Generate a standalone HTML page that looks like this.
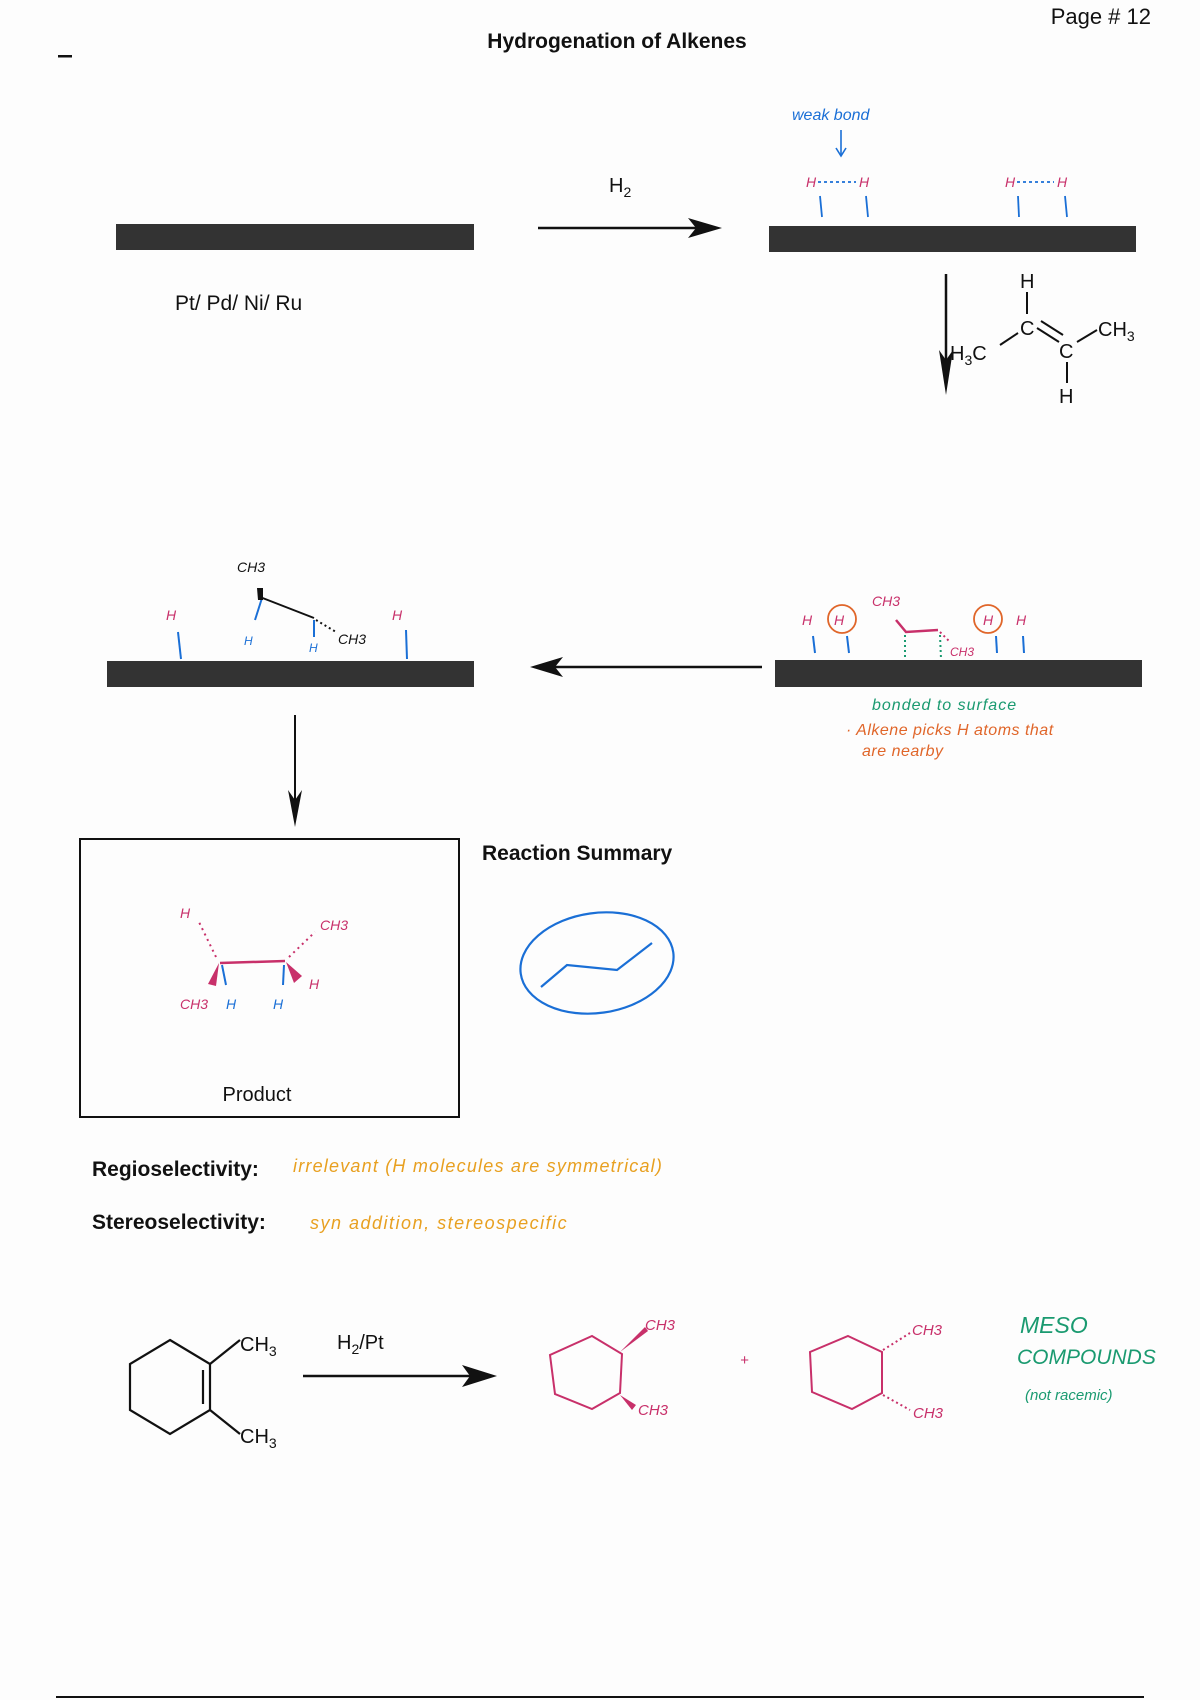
<!DOCTYPE html>
<html><head><meta charset="utf-8"><style>
html,body{margin:0;padding:0;background:#fff}
svg{display:block}
.t{font-family:"Liberation Sans",sans-serif;fill:#111}
.hw{font-family:"Liberation Sans",sans-serif;font-style:italic}
</style></head><body>
<svg width="1200" height="1700" viewBox="0 0 1200 1700" xmlns="http://www.w3.org/2000/svg">
<rect width="1200" height="1700" fill="#fdfdfd"/>
<text class="t" x="1151" y="24" font-size="22" text-anchor="end">Page # 12</text>
<text class="t" x="617" y="48" font-size="21" font-weight="bold" text-anchor="middle">Hydrogenation of Alkenes</text>
<rect x="58" y="55" width="14" height="2.5" fill="#111"/>

<!-- row 1 -->
<rect x="116" y="224" width="358" height="26" fill="#333"/>
<text class="t" x="175" y="310" font-size="21">Pt/ Pd/ Ni/ Ru</text>
<line x1="538" y1="228" x2="700" y2="228" stroke="#111" stroke-width="2.5"/>
<polygon points="722,228 688,218 696,228 688,238" fill="#111"/>
<text class="t" x="609" y="192" font-size="20">H<tspan font-size="14" dy="5">2</tspan></text>
<rect x="769" y="226" width="367" height="26" fill="#333"/>
<text class="hw" x="792" y="120" font-size="16" fill="#1a6fd6">weak bond</text>
<line x1="841" y1="130" x2="841" y2="155" stroke="#1a6fd6" stroke-width="1.6"/>
<polyline points="836,148 841,156 846,148" fill="none" stroke="#1a6fd6" stroke-width="1.6"/>
<g font-size="14" fill="#c8306a" class="hw">
<text x="806" y="187">H</text><text x="859" y="187">H</text>
<text x="1005" y="187">H</text><text x="1057" y="187">H</text>
</g>
<g stroke="#1a6fd6" stroke-width="1.8" fill="none">
<line x1="818" y1="182" x2="856" y2="182" stroke-dasharray="3,3"/>
<line x1="1017" y1="182" x2="1054" y2="182" stroke-dasharray="3,3"/>
<line x1="820" y1="196" x2="822" y2="217"/><line x1="866" y1="196" x2="868" y2="217"/>
<line x1="1018" y1="196" x2="1019" y2="217"/><line x1="1065" y1="196" x2="1067" y2="217"/>
</g>
<line x1="946" y1="274" x2="946" y2="370" stroke="#111" stroke-width="2.5"/>
<polygon points="946,395 939,350 946,360 953,350" fill="#111"/>
<g class="t" font-size="20">
<text x="1020" y="288">H</text>
<text x="1020" y="335">C</text>
<text x="1098" y="336">CH<tspan font-size="14" dy="5">3</tspan></text>
<text x="950" y="360">H<tspan font-size="14" dy="5">3</tspan><tspan dy="-5">C</tspan></text>
<text x="1059" y="358">C</text>
<text x="1059" y="403">H</text>
</g>
<g stroke="#111" stroke-width="2">
<line x1="1027" y1="292" x2="1027" y2="314"/>
<line x1="1000" y1="345" x2="1018" y2="333"/>
<line x1="1037" y1="328" x2="1059" y2="342"/>
<line x1="1041" y1="321" x2="1063" y2="335"/>
<line x1="1077" y1="342" x2="1097" y2="330"/>
<line x1="1067" y1="362" x2="1067" y2="383"/>
</g>

<!-- row 2 -->
<rect x="107" y="661" width="367" height="26" fill="#333"/>
<rect x="775" y="660" width="367" height="27" fill="#333"/>
<line x1="545" y1="667" x2="762" y2="667" stroke="#111" stroke-width="2.5"/>
<polygon points="530,667 563,657 555,667 563,677" fill="#111"/>
<line x1="295" y1="715" x2="295" y2="805" stroke="#111" stroke-width="2"/>
<polygon points="295,827 288,790 295,800 302,790" fill="#111"/>
<g class="hw" font-size="14">
<text x="166" y="620" fill="#c8306a">H</text>
<text x="392" y="620" fill="#c8306a">H</text>
<text x="237" y="572" fill="#111">CH3</text>
<text x="338" y="644" fill="#111">CH3</text>
<text x="244" y="645" fill="#1a6fd6" font-size="12">H</text>
<text x="309" y="652" fill="#1a6fd6" font-size="12">H</text>
</g>
<g fill="none" stroke-width="2">
<line x1="178" y1="632" x2="181" y2="659" stroke="#1a6fd6"/>
<line x1="406" y1="630" x2="407" y2="659" stroke="#1a6fd6"/>
<line x1="262" y1="598" x2="255" y2="620" stroke="#1a6fd6"/>
<line x1="314" y1="620" x2="314" y2="637" stroke="#1a6fd6"/>
<line x1="260" y1="597" x2="314" y2="618" stroke="#111"/>
<line x1="316" y1="620" x2="336" y2="632" stroke="#111" stroke-dasharray="2,3"/>
</g>
<polygon points="257,588 263,588 263,600 258,600" fill="#111"/>
<g class="hw" font-size="14" fill="#c8306a">
<text x="802" y="625">H</text><text x="834" y="625">H</text>
<text x="872" y="606">CH3</text>
<text x="983" y="625">H</text><text x="1016" y="625">H</text>
</g>
<text class="hw" x="950" y="656" font-size="12" fill="#c8306a">CH3</text>
<circle cx="842" cy="619" r="14" fill="none" stroke="#e0662a" stroke-width="1.8"/>
<circle cx="988" cy="619" r="14" fill="none" stroke="#e0662a" stroke-width="1.8"/>
<g fill="none" stroke-width="2">
<line x1="813" y1="636" x2="815" y2="653" stroke="#1a6fd6"/>
<line x1="847" y1="636" x2="849" y2="653" stroke="#1a6fd6"/>
<line x1="996" y1="636" x2="997" y2="653" stroke="#1a6fd6"/>
<line x1="1023" y1="636" x2="1024" y2="653" stroke="#1a6fd6"/>
<polyline points="896,620 906,632 938,630" stroke="#c8306a" stroke-width="2.5"/>
<line x1="905" y1="635" x2="905" y2="659" stroke="#1a9a70" stroke-dasharray="2,3"/>
<line x1="940" y1="635" x2="941" y2="659" stroke="#1a9a70" stroke-dasharray="2,3"/>
<line x1="940" y1="632" x2="950" y2="642" stroke="#c8306a" stroke-dasharray="2,3"/>
</g>
<text class="hw" x="872" y="710" font-size="16" fill="#1a9a70" letter-spacing="1">bonded to surface</text>
<text class="hw" x="846" y="735" font-size="16" fill="#e0662a" letter-spacing="0.5">· Alkene picks H atoms that</text>
<text class="hw" x="862" y="756" font-size="16" fill="#e0662a" letter-spacing="0.5">are nearby</text>

<!-- product box -->
<rect x="80" y="839" width="379" height="278" fill="none" stroke="#111" stroke-width="2"/>
<text class="t" x="257" y="1101" font-size="20" text-anchor="middle">Product</text>
<text class="t" x="482" y="860" font-size="21" font-weight="bold">Reaction Summary</text>
<g fill="none" stroke-width="2">
<line x1="220" y1="963" x2="285" y2="961" stroke="#c8306a" stroke-width="2.5"/>
<line x1="216" y1="957" x2="198" y2="920" stroke="#c8306a" stroke-dasharray="2,4"/>
<line x1="289" y1="957" x2="315" y2="932" stroke="#c8306a" stroke-dasharray="2,4"/>
<line x1="222" y1="965" x2="226" y2="985" stroke="#1a6fd6"/>
<line x1="284" y1="965" x2="283" y2="985" stroke="#1a6fd6"/>
</g>
<polygon points="219,963 208,984 216,986" fill="#c8306a"/>
<polygon points="286,962 294,983 302,976" fill="#c8306a"/>
<g class="hw" font-size="14" fill="#c8306a">
<text x="180" y="918">H</text><text x="320" y="930">CH3</text>
<text x="180" y="1009">CH3</text><text x="309" y="989">H</text>
</g>
<text class="hw" x="226" y="1009" font-size="14" fill="#1a6fd6">H</text>
<text class="hw" x="273" y="1009" font-size="14" fill="#1a6fd6">H</text>
<ellipse cx="597" cy="963" rx="77" ry="50" fill="none" stroke="#1a6fd6" stroke-width="2.2" transform="rotate(-8 597 963)"/>
<polyline points="541,987 567,965 617,970 652,943" fill="none" stroke="#1a6fd6" stroke-width="2.2"/>

<text class="t" x="92" y="1176" font-size="21" font-weight="bold">Regioselectivity:</text>
<text class="hw" x="293" y="1172" font-size="18" fill="#e8a020" letter-spacing="1.2">irrelevant (H molecules are symmetrical)</text>
<text class="t" x="92" y="1229" font-size="21" font-weight="bold">Stereoselectivity:</text>
<text class="hw" x="310" y="1229" font-size="18" fill="#e8a020" letter-spacing="1.5">syn addition, stereospecific</text>

<!-- bottom reaction -->
<g fill="none" stroke="#111" stroke-width="2.2">
<polygon points="170,1340 210,1364 210,1410 170,1434 130,1410 130,1364"/>
<line x1="203" y1="1370" x2="203" y2="1404"/>
<line x1="210" y1="1364" x2="240" y2="1340"/>
<line x1="210" y1="1410" x2="240" y2="1434"/>
</g>
<text class="t" x="240" y="1351" font-size="20">CH<tspan font-size="14" dy="5">3</tspan></text>
<text class="t" x="240" y="1443" font-size="20">CH<tspan font-size="14" dy="5">3</tspan></text>
<text class="t" x="337" y="1349" font-size="20">H<tspan font-size="14" dy="5">2</tspan><tspan dy="-5">/Pt</tspan></text>
<line x1="303" y1="1376" x2="475" y2="1376" stroke="#111" stroke-width="2.5"/>
<polygon points="497,1376 462,1365 470,1376 462,1387" fill="#111"/>
<g fill="none" stroke="#c8306a" stroke-width="2">
<polygon points="592,1336 622,1354 620,1393 592,1409 555,1394 550,1355"/>
<polygon points="848,1336 882,1352 882,1393 852,1409 812,1392 810,1352"/>
<line x1="883" y1="1350" x2="910" y2="1333" stroke-dasharray="2,3"/>
<line x1="883" y1="1395" x2="910" y2="1410" stroke-dasharray="2,3"/>
</g>
<polygon points="620,1352 645,1327 648,1331" fill="#c8306a"/>
<polygon points="620,1395 632,1410 636,1405" fill="#c8306a"/>
<g class="hw" font-size="15" fill="#c8306a">
<text x="645" y="1330">CH3</text><text x="638" y="1415">CH3</text>
<text x="912" y="1335">CH3</text><text x="913" y="1418">CH3</text>
<text x="740" y="1365">+</text>
</g>
<g class="hw" fill="#1a9a70">
<text x="1020" y="1333" font-size="23">MESO</text>
<text x="1017" y="1364" font-size="21">COMPOUNDS</text>
<text x="1025" y="1400" font-size="15">(not racemic)</text>
</g>
<line x1="56" y1="1697" x2="1144" y2="1697" stroke="#111" stroke-width="2"/>
</svg>
</body></html>
